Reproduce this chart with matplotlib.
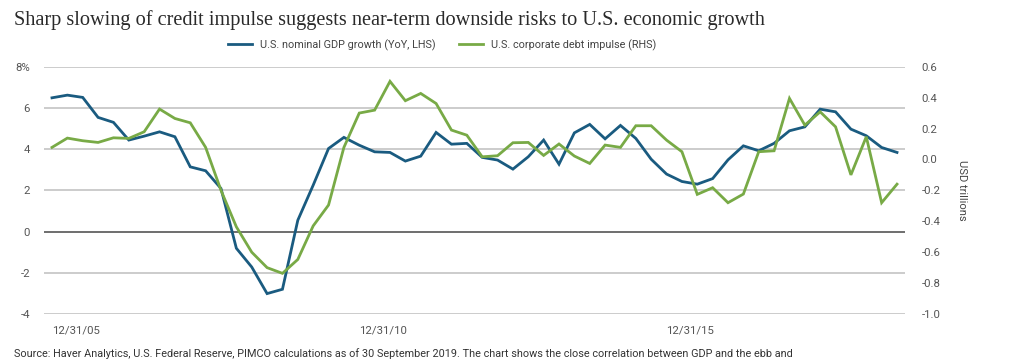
import matplotlib
matplotlib.use("Agg")
import matplotlib.pyplot as plt
from matplotlib.lines import Line2D

# ---- data (quarterly, 12/31/05 .. 9/30/19) ----
gdp_growth = [6.49, 6.62, 6.51, 5.54, 5.30, 4.44, 4.63, 4.84, 4.60, 3.14, 2.95, 2.09,
              -0.81, -1.72, -3.01, -2.80, 0.55, 2.25, 4.03, 4.57, 4.19, 3.87, 3.84,
              3.42, 3.66, 4.81, 4.24, 4.28, 3.60, 3.47, 3.03, 3.63, 4.44, 3.27,
              4.79, 5.20, 4.50, 5.15, 4.52, 3.51, 2.79, 2.43, 2.30, 2.57, 3.48,
              4.16, 3.92, 4.28, 4.89, 5.08, 5.94, 5.81, 4.97, 4.65, 4.08, 3.84]
debt_impulse = [0.078, 0.138, 0.121, 0.110, 0.140, 0.136, 0.179, 0.326, 0.265, 0.237, 0.078, -0.20,
                -0.436, -0.60, -0.70, -0.737, -0.647, -0.43, -0.295, 0.078, 0.30, 0.319, 0.505,
                0.38, 0.427, 0.362, 0.19, 0.157, 0.017, 0.024, 0.108, 0.11, 0.026, 0.10,
                0.022, -0.026, 0.093, 0.078, 0.218, 0.218, 0.125, 0.05, -0.226, -0.183, -0.28,
                -0.224, 0.05, 0.056, 0.395, 0.222, 0.308, 0.211, -0.10, 0.147, -0.28, -0.16]
xtick_labels = ["12/31/05", "12/31/10", "12/31/15"]
xtick_index = [0, 20, 40]
left_ticks = [-4, -2, 0, 2, 4, 6, 8]
left_ticklabels = ["-4", "-2", "0", "2", "4", "6", "8%"]
right_ticks = [-1.0, -0.8, -0.6, -0.4, -0.2, 0.0, 0.2, 0.4, 0.6]
series_names = ["U.S. nominal GDP growth (YoY, LHS)", "U.S. corporate debt impulse (RHS)"]

BLUE = "#1a5b80"
GREEN = "#78aa46"
TICK = "#555555"
SANS = ["Roboto", "DejaVu Sans"]

fig = plt.figure(figsize=(10.24, 3.63), dpi=100)
ax = fig.add_axes([44/1024, 1-314/363, (905-44)/1024, (314-66.7)/363])
ax2 = ax.twinx()

x = list(range(len(gdp_growth)))
ax.plot(x, gdp_growth, color=BLUE, lw=2.0, solid_joinstyle="miter", zorder=3)
ax2.plot(x, debt_impulse, color=GREEN, lw=2.0, solid_joinstyle="miter", zorder=3)

ax.set_xlim(-0.52, 55.52)
ax.set_ylim(-4, 8)
ax2.set_ylim(-1.0, 0.6)

for t in left_ticks:
    if t == 0:
        ax.axhline(t, color="#555555", lw=1.2, zorder=1)
    else:
        ax.axhline(t, color="#c8c8c8", lw=1.3, zorder=1)

for a in (ax, ax2):
    for s in a.spines.values():
        s.set_visible(False)

ax.set_yticks(left_ticks)
ax.set_yticklabels(left_ticklabels)
ax.tick_params(axis="y", length=0, pad=10, labelsize=8.2, labelcolor=TICK)
ax2.set_yticks(right_ticks)
ax2.set_yticklabels([f"{v:.1f}" for v in right_ticks])
ax2.tick_params(axis="y", length=0, pad=12, labelsize=8.2, labelcolor=TICK)
ax.set_xticks(xtick_index)
ax.set_xticklabels(xtick_labels, ha="left")
ax.tick_params(axis="x", length=0, pad=8, labelsize=8.2, labelcolor=TICK)
for lab in ax.get_xticklabels() + ax.get_yticklabels() + ax2.get_yticklabels():
    lab.set_family(SANS)

fig.text(962/1024, 1-190/363, "USD trillions", rotation=270, ha="center", va="center",
         fontsize=8, color="#444444", family=SANS)

fig.text(14/1024, 1-20/363, "Sharp slowing of credit impulse suggests near-term downside risks to U.S. economic growth",
         ha="left", va="center", fontsize=14.6, color="#2a2a2a", family=["Liberation Serif", "DejaVu Serif"])

handles = [Line2D([], [], color=BLUE, lw=2.0), Line2D([], [], color=GREEN, lw=2.0)]
leg = fig.legend(handles, series_names, loc="center", bbox_to_anchor=(442/1024, 1-45/363), ncol=2,
                 frameon=False, handlelength=2.2, handletextpad=0.7, columnspacing=2.2,
                 prop={"family": SANS, "size": 7.8})
for t in leg.get_texts():
    t.set_color("#444444")

fig.text(14/1024, 1-354/363,
         "Source: Haver Analytics, U.S. Federal Reserve, PIMCO calculations as of 30 September 2019. The chart shows the close correlation between GDP and the ebb and",
         ha="left", va="center", fontsize=7.8, color="#333333", family=SANS)

fig.savefig("out.png", dpi=100)
